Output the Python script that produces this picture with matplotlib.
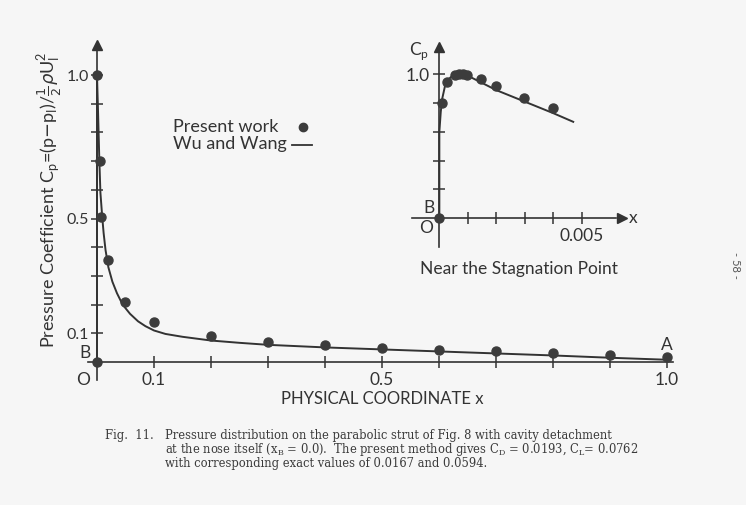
import numpy as np
import matplotlib
matplotlib.use('Agg')
import matplotlib.pyplot as plt

# data
# present work (dots), main plot
pw_x = [0.0, 0.0, 0.0047, 0.0077, 0.019, 0.05, 0.1, 0.2, 0.3, 0.4, 0.5, 0.6, 0.7, 0.8, 0.9, 1.0]
pw_cp = [0.0, 1.0, 0.70, 0.505, 0.357, 0.21, 0.138, 0.091, 0.071, 0.058, 0.050, 0.042, 0.037, 0.031, 0.024, 0.016]

# Wu and Wang (line), main plot
ww_x = [0.0, 0.0, 0.002, 0.004, 0.006, 0.009, 0.0116, 0.015, 0.02, 0.027, 0.035, 0.045, 0.058,
        0.072, 0.085, 0.1, 0.12, 0.15, 0.2, 0.25, 0.3, 0.4, 0.5, 0.6, 0.7, 0.8, 0.9, 1.0]
ww_cp = [0.0, 1.0, 0.86, 0.71, 0.59, 0.51, 0.45, 0.39, 0.33, 0.28, 0.24, 0.2, 0.168,
         0.142, 0.125, 0.11, 0.098, 0.088, 0.075, 0.067, 0.06, 0.051, 0.044, 0.037, 0.03, 0.023, 0.015, 0.008]

# inset: near the stagnation point
ins_pw_x = [0.0, 0.00008, 0.00026, 0.00055, 0.0007, 0.00082, 0.00096, 0.00146, 0.00198, 0.00297, 0.00398]
ins_pw_cp = [0.0, 0.80, 0.945, 0.995, 1.0, 1.0, 0.995, 0.965, 0.92, 0.833, 0.764]
ins_ww_x = [0.0, 0.0, 0.00005, 0.0001, 0.0002, 0.0003, 0.0004, 0.0006, 0.001, 0.0015, 0.002, 0.003, 0.004, 0.0047]
ins_ww_cp = [0.0, 0.6, 0.74, 0.83, 0.92, 0.96, 0.98, 1.0, 0.99, 0.94, 0.89, 0.81, 0.73, 0.67]

main_ticks = [0.1, 0.2, 0.3, 0.4, 0.5, 0.6, 0.7, 0.8, 0.9, 1.0]
main_labels = ['0.1', '', '', '', '0.5', '', '', '', '', '1.0']
ins_xticks = [0.001, 0.002, 0.003, 0.004, 0.005]
ins_xlabels = ['', '', '', '', '0.005']
ins_yticks = [0.2, 0.4, 0.6, 0.8, 1.0]
ins_ylabels = ['', '', '', '', '1.0']

ink = '#333333'
bg = '#f6f6f6'

plt.rcParams['font.family'] = ['Lato', 'DejaVu Sans']
plt.rcParams['text.color'] = ink

fig = plt.figure(figsize=(7.46, 5.05), dpi=100, facecolor=bg)


def style_axes(ax, ybounds, xbounds):
    ax.set_facecolor('none')
    for s in ['top', 'right']:
        ax.spines[s].set_visible(False)
    ax.spines['left'].set_position(('data', 0))
    ax.spines['bottom'].set_position(('data', 0))
    ax.spines['left'].set_bounds(*ybounds)
    ax.spines['bottom'].set_bounds(*xbounds)
    for s in ['left', 'bottom']:
        ax.spines[s].set_color(ink)
        ax.spines[s].set_linewidth(1.2)
    ax.tick_params(direction='inout', length=8, width=1.1, color=ink,
                   labelcolor=ink, labelsize=12.5, pad=3)


# ---- main plot ----
ax = fig.add_axes([0.1071, 0.2376, 0.8099, 0.6820])
ax.set_xlim(-0.03, 1.03)
ax.set_ylim(-0.08, 1.12)
style_axes(ax, (-0.063, 1.09), (-0.015, 1.01))
ax.tick_params(axis='y', labelsize=11.5, pad=2)
ax.plot([0], [1.105], marker='^', ms=7, color=ink, clip_on=False)

ax.plot(ww_x, ww_cp, color=ink, lw=1.4)
ax.plot(pw_x, pw_cp, 'o', ms=6.5, color='#3c3c3c', clip_on=False, zorder=5)

ax.set_xticks(main_ticks)
ax.set_xticklabels(main_labels)
ax.set_yticks(main_ticks)
ax.set_yticklabels(main_labels)

ax.text(-0.012, 0.03, 'B', ha='right', va='center', fontsize=12.5)
ax.text(-0.012, -0.063, 'O', ha='right', va='center', fontsize=12.5)
ax.text(1.0, 0.058, 'A', ha='center', va='center', fontsize=12.5)
ax.text(0.5, -0.13, 'PHYSICAL COORDINATE x', ha='center', va='center', fontsize=12)

# legend, drawn by hand like the original
ax.text(0.133, 0.82, 'Present work', ha='left', va='center', fontsize=13)
ax.text(0.133, 0.76, 'Wu and Wang', ha='left', va='center', fontsize=13)
ax.plot([0.361], [0.82], 'o', ms=6, color='#3c3c3c')
ax.plot([0.342, 0.378], [0.755, 0.755], color=ink, lw=1.3)

fig.text(50 / 746, 1 - 200 / 505,
         r'Pressure Coefficient C$_\mathregular{p}$=(p$-$p$_\mathregular{I}$)/'
         r'$\frac{1}{2}\rho$U$_\mathregular{I}^\mathregular{2}$',
         rotation=90, ha='center', va='center', fontsize=13)

# ---- inset ----
ins = fig.add_axes([0.5519, 0.5107, 0.2814, 0.3992])
ins.set_xlim(-0.00097, 0.0064)
ins.set_ylim(-0.2, 1.2)
style_axes(ins, (-0.2, 1.15), (-0.00097, 0.0062))
ins.plot([0], [1.19], marker='^', ms=7, color=ink, clip_on=False)
ins.plot([0.0064], [0], marker='>', ms=7, color=ink, clip_on=False)

ins.plot(ins_ww_x, ins_ww_cp, color=ink, lw=1.4)
ins.plot(ins_pw_x, ins_pw_cp, 'o', ms=6.5, color='#3c3c3c', clip_on=False, zorder=5)
ins.set_xticks(ins_xticks)
ins.set_xticklabels(ins_xlabels)
ins.set_yticks(ins_yticks)
ins.set_yticklabels(ins_ylabels)

ins.text(-0.00072, 1.16, r'C$_\mathregular{p}$', ha='center', va='center', fontsize=12.5)
ins.text(-0.00035, 0.07, 'B', ha='center', va='center', fontsize=12.5)
ins.text(-0.00045, -0.07, 'O', ha='center', va='center', fontsize=12.5)
ins.text(0.0068, 0.0, 'x', ha='center', va='center', fontsize=12.5)
ins.text(0.0028, -0.35, 'Near the Stagnation Point', ha='center', va='center', fontsize=12.5)

# ---- caption and page number ----
cap = dict(family=['DejaVu Serif'], fontsize=8.3, color='#3a3a3a',
           ha='left', va='center')
fig.text(105 / 746, 1 - 436 / 505, 'Fig.  11.', **cap)
fig.text(165 / 746, 1 - 436 / 505,
         'Pressure distribution on the parabolic strut of Fig. 8 with cavity detachment', **cap)
fig.text(165 / 746, 1 - 450 / 505,
         r'at the nose itself (x$_\mathregular{B}$ = 0.0).  The present method gives '
         r'C$_\mathregular{D}$ = 0.0193, C$_\mathregular{L}$= 0.0762', **cap)
fig.text(165 / 746, 1 - 464 / 505,
         'with corresponding exact values of 0.0167 and 0.0594.', **cap)
fig.text(736 / 746, 1 - 265 / 505, '- 58 -', rotation=-90, ha='center', va='center',
         fontsize=8, color='#555555')

fig.savefig('out.png', dpi=100, facecolor=bg)
